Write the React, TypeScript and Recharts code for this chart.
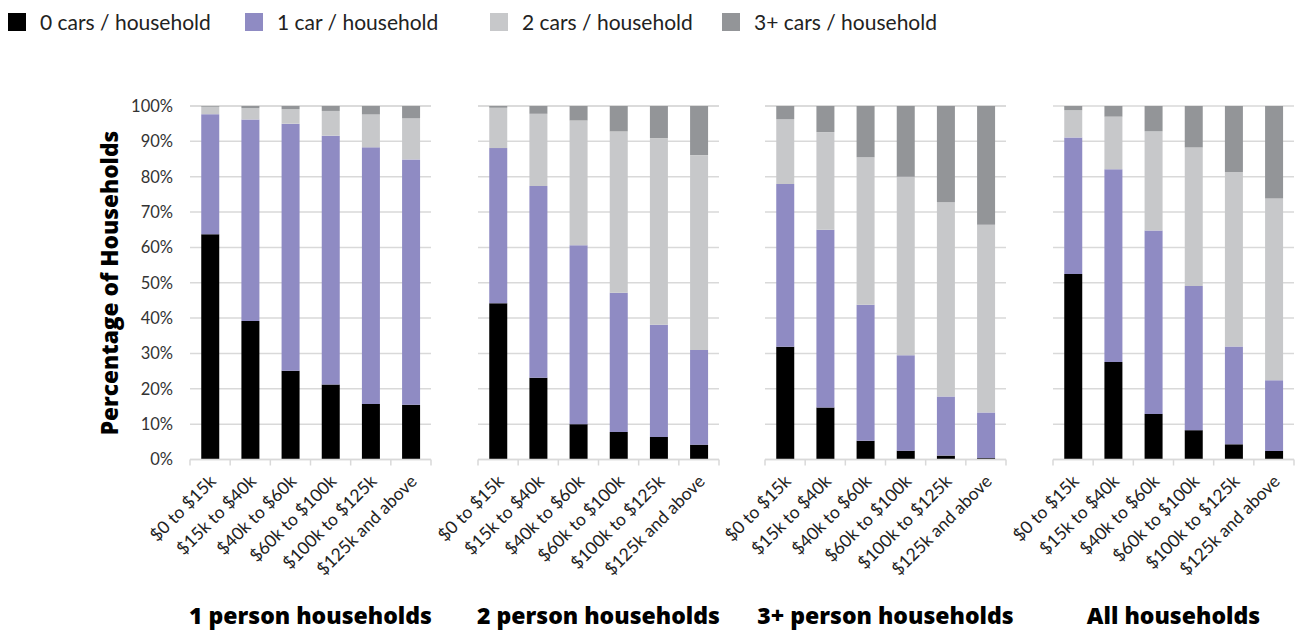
import React from "react";
import { BarChart, Bar, XAxis, YAxis, CartesianGrid } from "recharts";

const categories = ["$0 to $15k", "$15k to $40k", "$40k to $60k", "$60k to $100k", "$100k to $125k", "$125k and above"];
const seriesNames = ["0 cars / household", "1 car / household", "2 cars / household", "3+ cars / household"];
const seriesColors = ["#000000", "#8f8bc3", "#c7c8ca", "#939598"];
const panelTitles = ["1 person households", "2 person households", "3+ person households", "All households"];
const yTicks = [0, 10, 20, 30, 40, 50, 60, 70, 80, 90, 100];

const p1Zero = [63.7, 39.2, 25.1, 21.2, 15.7, 15.5];
const p1One = [34.0, 57.0, 69.9, 70.4, 72.6, 69.4];
const p1Two = [2.1, 3.2, 4.1, 7.0, 9.3, 11.6];
const p1Three = [0.2, 0.6, 0.9, 1.4, 2.4, 3.5];

const p2Zero = [44.2, 23.1, 10.0, 7.8, 6.4, 4.2];
const p2One = [43.9, 54.3, 50.6, 39.4, 31.7, 26.8];
const p2Two = [11.4, 20.4, 35.3, 45.6, 52.8, 55.1];
const p2Three = [0.5, 2.2, 4.1, 7.2, 9.1, 13.9];

const p3Zero = [31.9, 14.7, 5.3, 2.5, 1.1, 0.4];
const p3One = [46.0, 50.3, 38.5, 27.0, 16.7, 12.9];
const p3Two = [18.4, 27.6, 41.7, 50.5, 55.0, 53.1];
const p3Three = [3.7, 7.4, 14.5, 20.0, 27.2, 33.6];

const p4Zero = [52.5, 27.6, 12.9, 8.3, 4.3, 2.4];
const p4One = [38.6, 54.5, 51.9, 40.8, 27.7, 20.0];
const p4Two = [7.7, 14.9, 28.1, 39.2, 49.3, 51.4];
const p4Three = [1.2, 3.0, 7.1, 11.7, 18.7, 26.2];

const panelSeries = [
  [p1Zero, p1One, p1Two, p1Three],
  [p2Zero, p2One, p2Two, p2Three],
  [p3Zero, p3One, p3Two, p3Three],
  [p4Zero, p4One, p4Two, p4Three],
];

const FONT = "Lato, 'Open Sans', 'DejaVu Sans', sans-serif";
const BOLD_FONT = "'Open Sans', Lato, 'DejaVu Sans', sans-serif";
const PLOT_LEFTS = [190, 478, 765, 1053];
const PLOT_W = 241;
const LEFT_SPACE = 75;
const GRID = "#d9d9d9";
const BAND = PLOT_W / categories.length;

function buildData(series: number[][]) {
  return categories.map((c, i) => ({
    cat: c,
    s0: series[0][i],
    s1: series[1][i],
    s2: series[2][i],
    s3: series[3][i],
  }));
}

const XTick = (props: any) => {
  const { x, y, payload, index } = props;
  const last = index === categories.length - 1;
  return (
    <g>
      <line x1={x - BAND / 2} x2={x - BAND / 2} y1={y - 8} y2={y - 2} stroke={GRID} strokeWidth={1.5} />
      {last && <line x1={x + BAND / 2} x2={x + BAND / 2} y1={y - 8} y2={y - 2} stroke={GRID} strokeWidth={1.5} />}
      <g transform={`translate(${x + 7},${y + 15})`}>
        <text x={0} y={0} textAnchor="end" transform="rotate(-45)" fontSize={17.5} fill="#222" fontFamily={FONT}>
          {payload.value}
        </text>
      </g>
    </g>
  );
};

function Panel({ idx }: { idx: number }) {
  const showY = idx === 0;
  const width = PLOT_W + LEFT_SPACE + 2;
  const left = PLOT_LEFTS[idx] - LEFT_SPACE;
  const data = buildData(panelSeries[idx]);
  return (
    <div style={{ position: "absolute", left, top: 0 }}>
      <BarChart
        width={width}
        height={631}
        data={data}
        margin={{ top: 106, right: 2, bottom: 100, left: showY ? 0 : LEFT_SPACE }}
        barCategoryGap="28%"
      >
        <CartesianGrid vertical={false} stroke={GRID} strokeWidth={1.5} />
        <XAxis
          dataKey="cat"
          interval={0}
          height={71.5}
          axisLine={{ stroke: GRID, strokeWidth: 1.5 }}
          tickLine={false}
          tick={<XTick />}
        />
        <YAxis
          type="number"
          domain={[0, 100]}
          ticks={yTicks}
          hide={!showY}
          width={LEFT_SPACE}
          axisLine={false}
          tickLine={false}
          tickMargin={11}
          tickFormatter={(v: number) => `${v}%`}
          tick={{ fontSize: 16.5, fill: "#333", fontFamily: FONT }}
        />
        {seriesNames.map((n, i) => (
          <Bar key={n} dataKey={`s${i}`} name={n} stackId="a" fill={seriesColors[i]} isAnimationActive={false} />
        ))}
      </BarChart>
    </div>
  );
}

const LEGEND_X = [8, 245, 490, 722];

export default function App() {
  return (
    <div style={{ position: "absolute", left: 0, top: 0, width: 1300, height: 631, background: "#fff", fontFamily: FONT, overflow: "hidden" }}>
      {seriesNames.map((n, i) => (
        <div key={n} style={{ position: "absolute", left: LEGEND_X[i], top: 13, display: "flex", alignItems: "center", height: 18 }}>
          <div style={{ width: 18, height: 18, background: seriesColors[i], flex: "none" }} />
          <span style={{ marginLeft: 14, fontSize: 21, color: "#222", whiteSpace: "nowrap", lineHeight: "18px" }}>{n}</span>
        </div>
      ))}
      {[0, 1, 2, 3].map((i) => (
        <Panel key={i} idx={i} />
      ))}
      <div
        style={{
          position: "absolute",
          left: 109,
          top: 283,
          transform: "translate(-50%, -50%) rotate(-90deg)",
          fontFamily: BOLD_FONT,
          fontSize: 22.7,
          fontWeight: 800,
          whiteSpace: "nowrap",
          color: "#000",
        }}
      >
        Percentage of Households
      </div>
      {panelTitles.map((t, i) => (
        <div
          key={t}
          style={{
            position: "absolute",
            left: PLOT_LEFTS[i] + PLOT_W / 2,
            top: 600,
            transform: "translateX(-50%)",
            fontFamily: BOLD_FONT,
            fontSize: 23,
            fontWeight: 800,
            whiteSpace: "nowrap",
            color: "#000",
            lineHeight: "30px",
          }}
        >
          {t}
        </div>
      ))}
    </div>
  );
}
